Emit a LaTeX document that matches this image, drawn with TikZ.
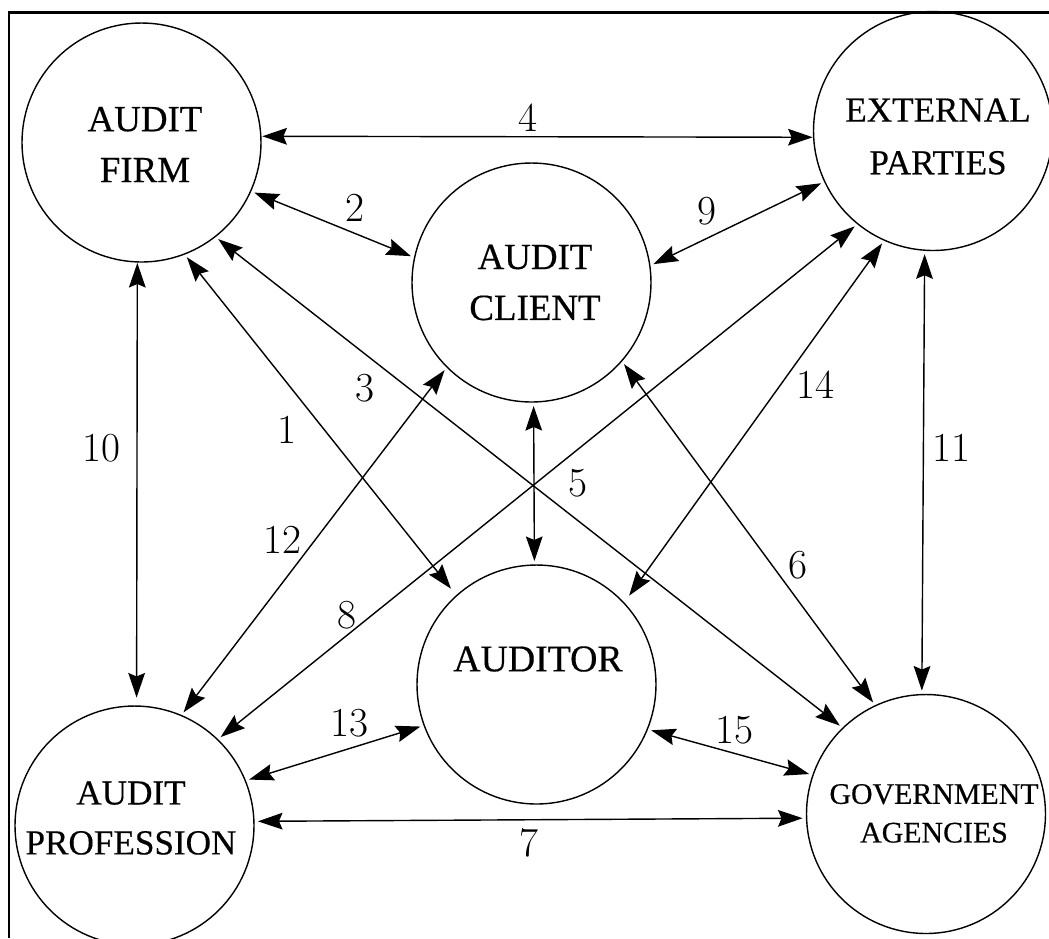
\documentclass[tikz,border=0pt]{standalone}
\usepackage{fontspec}
\newfontfamily\namefont[FakeBold=0.4]{Liberation Serif}
\usetikzlibrary{arrows.meta}
\begin{document}
\begin{tikzpicture}[x=0.02cm,y=-0.02cm,
  party/.style={circle,draw,line width=0.8pt,minimum size=4.78cm,inner sep=0pt,outer sep=0pt},
  ptip/.tip={Stealth[length=14pt,width=9.5pt,inset=2pt]},
  link/.style={ptip-ptip,line width=0.8pt,shorten <=0.08cm,shorten >=0.08cm},
  num/.style={font=\fontsize{23.5}{28}\selectfont,inner sep=0pt},
  caption/.style={align=center,inner sep=0pt}
]
\useasboundingbox (0,0) rectangle (1049,938);

% outer frame (top and left edges)
\draw[line width=1.4pt,line join=miter] (9,938) -- (9,12.5) -- (1049,12.5);

% parties
\node[party] (F) at (141.5,142.5) {};
\node[party] (E) at (933,131) {};
\node[party] (C) at (531.5,282.5) {};
\node[party] (A) at (536.5,684.5) {};
\node[party] (P) at (134.5,825.5) {};
\node[party] (G) at (926,814) {};

% party names
\node[caption,font=\namefont\fontsize{21}{29}\selectfont] (tF) at (145,144.5) {AUDIT\\FIRM};
\node[caption,font=\namefont\fontsize{20}{30}\selectfont] (tE) at (938,136.5) {EXTERNAL\\PARTIES};
\node[caption,font=\namefont\fontsize{21}{29}\selectfont] (tC) at (535,282.5) {AUDIT\\CLIENT};
\node[caption,font=\namefont\fontsize{21.5}{29}\selectfont] (tA) at (538,659) {AUDITOR};
\node[caption,font=\namefont\fontsize{20}{28.4}\selectfont] (tP) at (131,818) {AUDIT\\PROFESSION};
\node[caption,font=\namefont\fontsize{17}{22}\selectfont] (tG) at (934,813.4) {GOVERNMENT\\AGENCIES};

% relationships
\draw[link,shorten >=0.18cm] (F.-69.4) -- (A.132.8);
\draw[link] (F.-24.5) -- (C.168);
\draw[link] (F.-52.8) -- (G.134.6);
\draw[link,shorten <=0.03cm,shorten >=0.02cm] (F.3) -- (E.183);
\draw[link] (C.-89.4) -- (A.91.8);
\draw[link] (C.-41) -- (G.115);
\draw[link] (P.2.6) -- (G.182);
\draw[link] (P.46.1) -- (E.231.8);
\draw[link] (C.8.7) -- (E.205);
\draw[link,shorten <=0.02cm,shorten >=0.17cm] (F.-92.2) -- (P.89.4);
\draw[link] (E.-94.8) -- (G.92);
\draw[link] (P.67.6) -- (C.225.9);
\draw[link] (P.22.9) -- (A.200.7);
\draw[link,shorten <=0.18cm] (A.43.2) -- (E.246.7);
\draw[link] (A.-22.3) -- (G.161.1);

% relationship numbers
\node[num] (n1) at (286.7,430) {1};
\node[num] (n2) at (355,208) {2};
\node[num] (n3) at (365,388) {3};
\node[num] (n4) at (528,118) {4};
\node[num] (n5) at (578,483) {5};
\node[num] (n6) at (798,565) {6};
\node[num] (n7) at (529,843) {7};
\node[num] (n8) at (347,615) {8};
\node[num] (n9) at (707,211) {9};
\node[num] (n10) at (101.7,448) {10};
\node[num] (n11) at (951,448) {11};
\node[num] (n12) at (282,540) {12};
\node[num] (n13) at (349,723) {13};
\node[num] (n14) at (815,385) {14};
\node[num] (n15) at (734,730) {15};
\end{tikzpicture}
\end{document}
